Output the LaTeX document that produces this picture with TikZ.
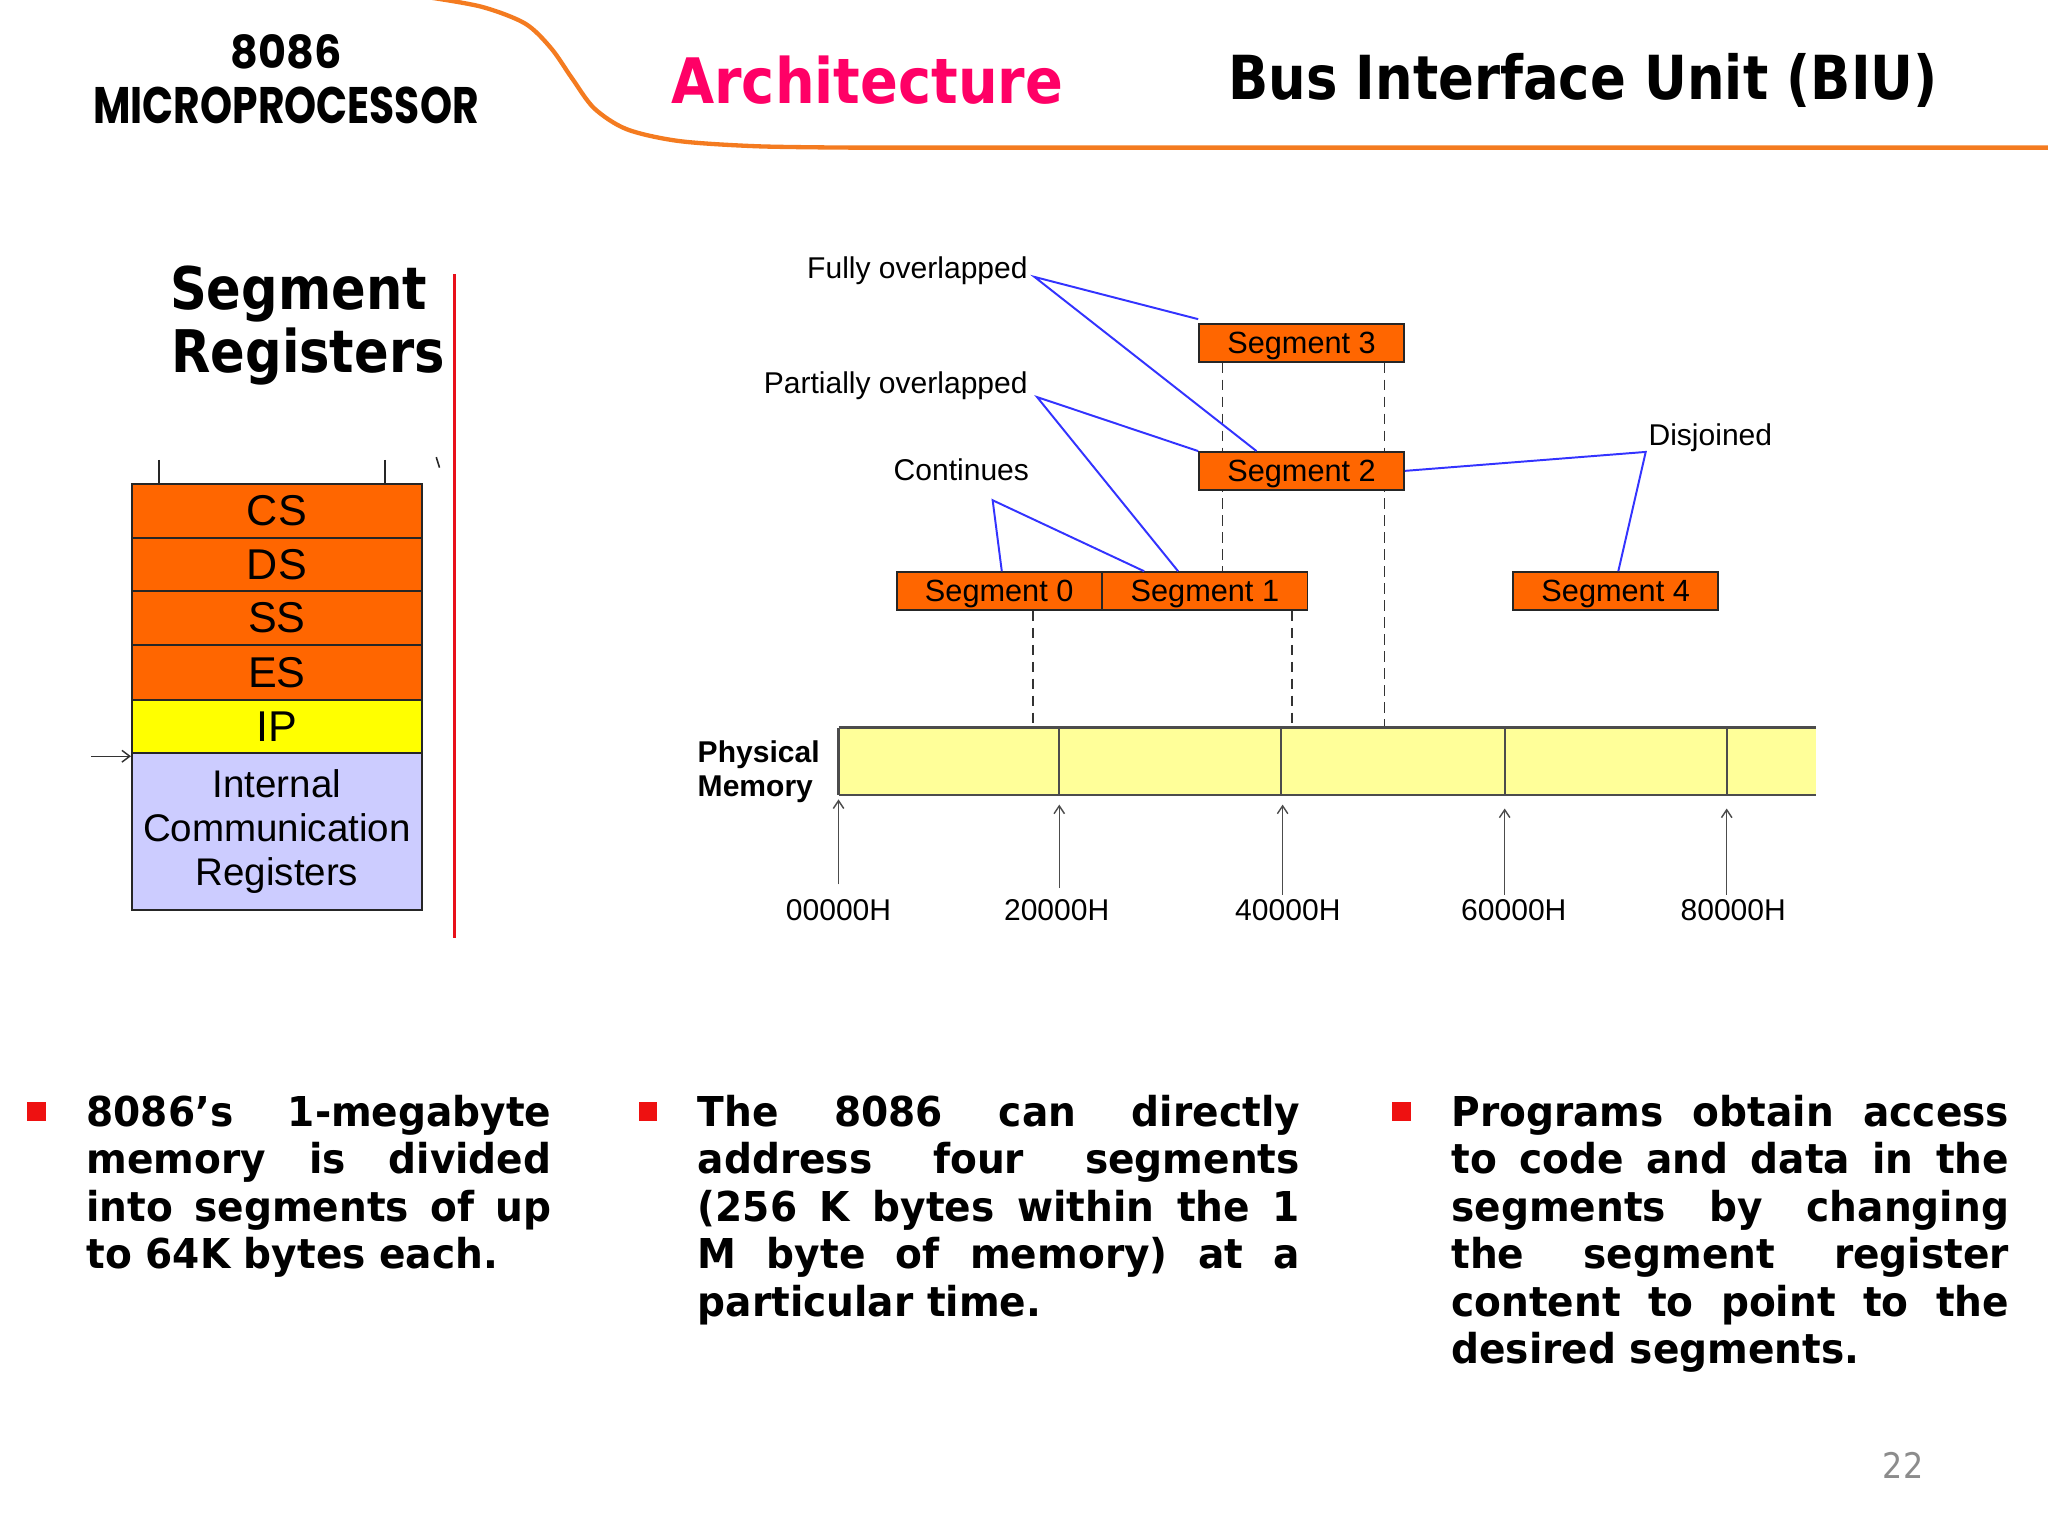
\documentclass[tikz,border=0pt]{standalone}
\usepackage{fontspec}
\setmainfont{Liberation Sans}
\newfontfamily\arialf{Liberation Sans}
\newfontfamily\headf[FakeStretch=0.87]{DejaVu Sans}
\newfontfamily\archf[FakeStretch=0.89]{DejaVu Sans}
\newfontfamily\bodyf[FakeStretch=0.95]{DejaVu Sans}
\newfontfamily\numf[FakeStretch=0.9]{DejaVu Sans}
\newfontfamily\popf{Poppins}
\usetikzlibrary{arrows.meta}
\pgfdeclarelayer{bg}
\pgfsetlayers{bg,main}
\definecolor{segorange}{HTML}{FF6600}
\definecolor{ipyellow}{HTML}{FFFF00}
\definecolor{lav}{HTML}{CCCCFF}
\definecolor{memyellow}{HTML}{FFFF99}
\definecolor{hdrorange}{HTML}{F47B20}
\definecolor{titlepink}{HTML}{FF0066}
\definecolor{blueline}{HTML}{3333FF}
\definecolor{bulletred}{HTML}{EE1111}
\definecolor{pagegray}{HTML}{8C8C8C}
\definecolor{redrule}{HTML}{E8101A}
\tikzset{
 seg/.style={draw=black!85, line width=1.3pt, fill=segorange, minimum width=157pt, minimum height=29pt, inner sep=0pt, text depth=0pt, font=\arialf\fontsize{23.5}{26}\selectfont},
 lbl/.style={font=\arialf\fontsize{23}{26}\selectfont, inner sep=0pt},
 conn/.style={draw=blueline, line width=1.5pt},
 dsh/.style={draw=black!80, line width=1.3pt, dash pattern=on 8pt off 5pt},
 reg/.style={draw=black!85, line width=1.5pt, minimum width=222pt, inner sep=0pt, anchor=north, font=\arialf\fontsize{33}{36}\selectfont},
 addr/.style={font=\arialf\fontsize{23}{26}\selectfont, inner sep=0pt},
 uparr/.style={draw=black!70, line width=1.1pt, -{Straight Barb[length=6pt,width=8pt]}},
 bodytxt/.style={font=\bodyf\bfseries\fontsize{31.5}{36.4}\selectfont, align=justify, inner sep=0pt, anchor=north west},
 bul/.style={fill=bulletred, minimum width=14pt, minimum height=15pt, inner sep=0pt},
 memline/.style={draw=black!70, line width=1.6pt},
}
\begin{document}
\begin{tikzpicture}[x=1pt,y=-1pt]
\useasboundingbox (0,0) rectangle (1568,1176);
\begin{pgfonlayer}{bg}
\fill[white] (0,0) rectangle (1568,1176);
\end{pgfonlayer}

% ---------- header ----------
\draw[hdrorange, line width=3.3pt, line cap=round] plot[smooth] coordinates {(322,-3) (368,5) (402,18) (422,37) (438,60) (455,83) (480,99) (520,108) (580,112) (650,113)} -- (1568,113);
\node[inner sep=0pt] (t8086) at (219,40) {\resizebox{85pt}{26pt}{\popf\bfseries 8086}};
\node[inner sep=0pt] (tmicro) at (219,81) {\resizebox{295pt}{28pt}{\popf\bfseries MICROPROCESSOR}};
\node[inner sep=0pt, text=titlepink, font=\archf\bfseries\fontsize{48}{52}\selectfont] (tarch) at (664,61.5) {Architecture};
\node[inner sep=0pt, anchor=base, font=\headf\bfseries\fontsize{46.5}{50}\selectfont] (tbiu) at (1212,76) {Bus Interface Unit (BIU)};

% ---------- left panel ----------
\node[inner sep=0pt, anchor=base west, font=\headf\bfseries\fontsize{45}{50}\selectfont] (tseg) at (130,237) {Segment};
\node[inner sep=0pt, anchor=base west, font=\headf\bfseries\fontsize{45}{50}\selectfont] (treg) at (131,285) {Registers};
\coordinate (rtop) at (348,210);
\coordinate (rbot) at (348,718);
\draw[redrule, line width=2.2pt] (rtop) -- (rbot);

\node[reg, fill=segorange, minimum height=41pt] (cs) at (212,370) {CS};
\node[reg, fill=segorange, minimum height=41pt] (ds) at (212,411) {DS};
\node[reg, fill=segorange, minimum height=41pt] (ss) at (212,452) {SS};
\node[reg, fill=segorange, minimum height=42pt] (es) at (212,493) {ES};
\node[reg, fill=ipyellow, minimum height=41pt] (ip) at (212,535) {IP};
\node[reg, fill=lav, minimum height=120pt, align=center, font=\arialf\fontsize{29.5}{33.5}\selectfont] (ic) at (212,576) {Internal\\Communication\\Registers};
\draw[black!85, line width=1.5pt] (122,352) -- (122,370);
\draw[black!85, line width=1.5pt] (295,352) -- (295,370);
\draw[black!85, line width=1.2pt] (334,350) -- (336.5,358);
\coordinate (icin) at (70,579);
\draw[black!80, line width=1.1pt, -{Straight Barb[length=6pt,width=9pt]}] (icin) -- (icin -| ic.west);

% ---------- segments diagram ----------
\node[seg] (s3) at (996.5,262.5) {Segment 3};
\node[seg] (s2) at (996.5,360.5) {Segment 2};
\node[seg] (s0) at (765,452.5) {Segment 0};
\node[seg] (s1) at (922.5,452.5) {Segment 1};
\node[seg] (s4) at (1237,452.5) {Segment 4};

\node[lbl, anchor=base east] (lfo) at (787,213) {Fully overlapped};
\node[lbl, anchor=base east] (lpo) at (787,301) {Partially overlapped};
\node[lbl, anchor=base east] (lco) at (788,368) {Continues};
\node[lbl, anchor=base west] (ldi) at (1262,341) {Disjoined};

% physical memory
\node[inner sep=0pt, anchor=base west, align=left, font=\arialf\bfseries\fontsize{23}{26}\selectfont] (lpm) at (534,610) {Physical\\Memory};
\fill[memyellow] (642,557) rectangle (1390,609);
\coordinate (mtl) at (642,557);
\coordinate (mtr) at (1390,557);
\coordinate (mbl) at (642,609);
\coordinate (mbr) at (1390,609);
\draw[memline] (mtl) -- (mtr);
\draw[memline] (mbl) -- (mbr);
\draw[memline] (mtl) -- (mbl);
\foreach \x in {811,981,1152,1322} \draw[memline] (\x,557) -- (\x,609);

\coordinate (a0) at (642,612);
\coordinate (a1) at (811,616);
\coordinate (a2) at (982,616);
\coordinate (a3) at (1152,619);
\coordinate (a4) at (1322,619);
\node[addr] (l0) at (642,697) {00000H};
\node[addr] (l1) at (809,697) {20000H};
\node[addr] (l2) at (986,697) {40000H};
\node[addr] (l3) at (1159,697) {60000H};
\node[addr] (l4) at (1327,697) {80000H};
\draw[uparr] (a0 |- 0,677) -- (a0);
\draw[uparr] (a1 |- 0,680) -- (a1);
\draw[uparr] (a2 |- 0,685) -- (a2);
\draw[uparr] (a3 |- 0,685) -- (a3);
\draw[uparr] (a4 |- 0,685) -- (a4);

% dashed guide lines (behind the boxes)
\begin{pgfonlayer}{bg}
\draw[dsh] (s3.south west -| 936,0) -- (s1.north -| 936,0);
\draw[dsh] (s3.south west -| 1060,0) -- (mtl -| 1060,0);
\draw[dsh] (s0.south -| 791,0) -- (mtl -| 791,0);
\draw[dsh] (s1.south -| 989,0) -- (mtl -| 989,0);
\end{pgfonlayer}

% blue connectors
\coordinate (pfo) at (792,212);
\coordinate (ppo) at (794,304);
\coordinate (pco) at (760,383);
\coordinate (pdi) at (1260,346);
\draw[conn] ([yshift=3pt]s3.north west) -- (pfo) -- (s2.north -| 962,0);
\draw[conn] (s2.north west) -- (ppo) -- (s1.north -| 902,0);
\draw[conn] (s0.north -| 767,0) -- (pco) -- (s1.north -| 876,0);
\draw[conn] (s2.east) -- (pdi) -- (s4.north -| 1239,0);

% ---------- bullets ----------
\node[bul] (b1) at (28,851) {};
\node[bul] (b2) at (496,851) {};
\node[bul] (b3) at (1073,851) {};
\node[bodytxt, text width=356pt] (p1) at (66,838) {8086’s 1-megabyte\linebreak memory is divided\linebreak into segments of up\linebreak to 64K bytes each.};
\node[bodytxt, text width=461pt] (p2) at (534,838) {The 8086 can directly\linebreak address four segments\linebreak (256 K bytes within the 1\linebreak M byte of memory) at a\linebreak particular time.};
\node[bodytxt, text width=427pt] (p3) at (1111,838) {Programs obtain access\linebreak to code and data in the\linebreak segments by changing\linebreak the segment register\linebreak content to point to the\linebreak desired segments.};

\node[inner sep=0pt, anchor=base, text=pagegray, font=\numf\fontsize{27}{30}\selectfont] (pg) at (1457,1132) {22};
\end{tikzpicture}
\end{document}
